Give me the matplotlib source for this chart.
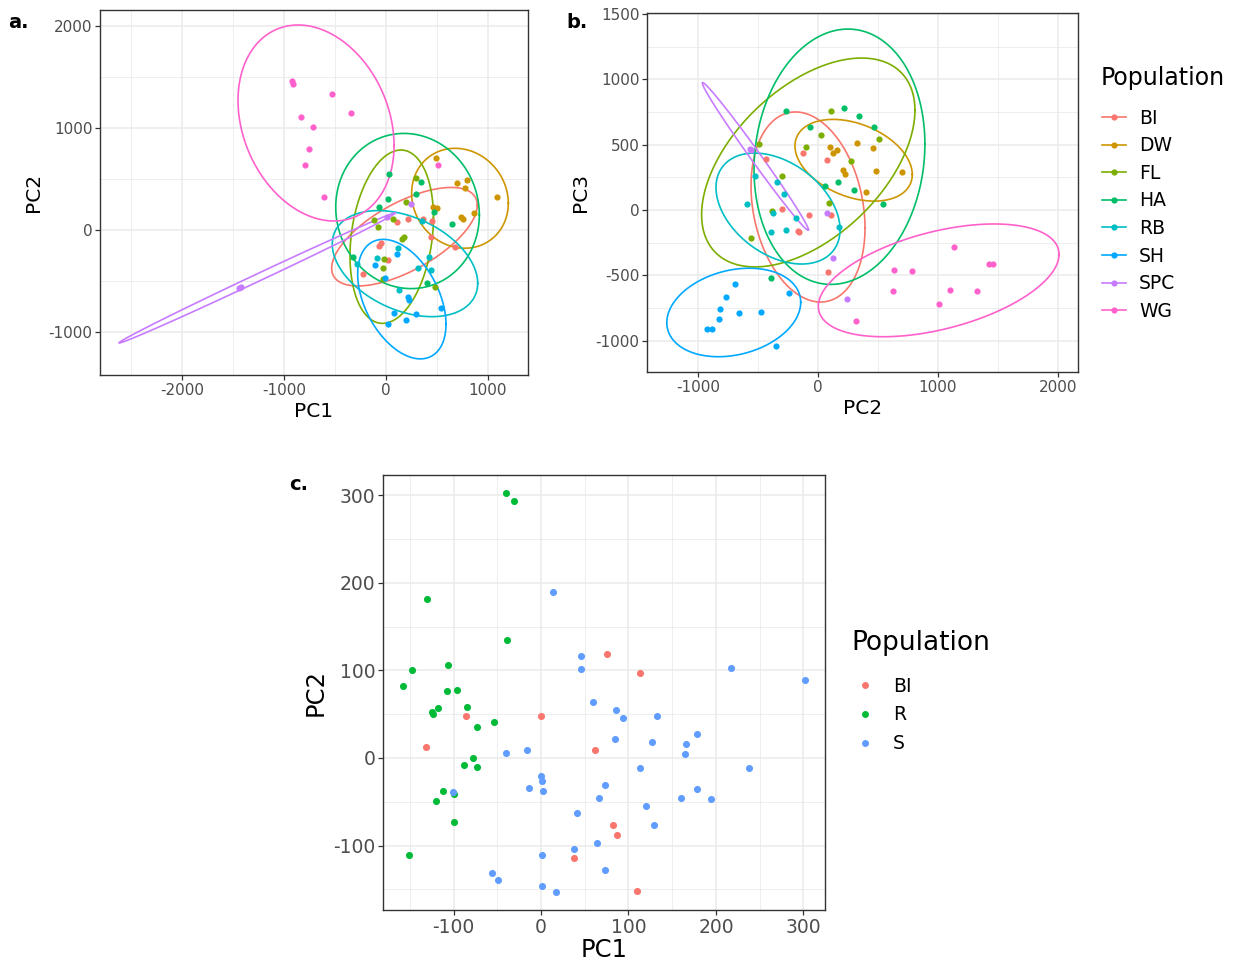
"""
PCA scatter plots of populations (panels a, b, c)
"""

import numpy as np
import matplotlib

matplotlib.use("Agg")
import matplotlib.pyplot as plt
from matplotlib.lines import Line2D

plt.rcParams["font.family"] = ["DejaVu Sans"]
plt.rcParams["axes.unicode_minus"] = False

POPS = ["BI", "DW", "FL", "HA", "RB", "SH", "SPC", "WG"]
POP_COLORS = ["#F8766D", "#CD9600", "#7CAE00", "#00BE67",
              "#00BFC4", "#00A9FF", "#C77CFF", "#FF61CC"]

# ---- panel a: PC1 vs PC2 ----
a_x = {
    "BI": [108, 219, 363, 454, 441, -49, -66, 23, -223, 676],
    "DW": [487, 693, 797, 775, 1085, 464, 500, 866, 732, 758],
    "FL": [294, 196, -115, -75, 72, 179, 160, -17, -32, -26, 480],
    "HA": [29, 343, 294, 23, -66, 471, 650, -321, 405],
    "RB": [115, -88, -287, 425, 317, 441, 127, 353],
    "SH": [108, -108, -10, 219, 225, 78, 294, 539, 196, 23],
    "SPC": [242, 7, -1419, -1441],
    "WG": [-925, -909, -833, -713, -755, -794, -532, -343, -605, 513],
}
a_y = {
    "BI": [78, 105, 108, 91, -72, -125, -157, -294, -431, -170],
    "DW": [709, 464, 490, 409, 326, 228, 213, 170, 125, 108],
    "FL": [513, 277, 98, 26, 108, -66, -91, -287, -375, -483, -556],
    "HA": [546, 471, 350, 304, 228, 176, 59, -268, -523],
    "RB": [-179, -277, -336, -262, -373, -392, -588, 88],
    "SH": [-238, -346, -468, -654, -686, -811, -821, -762, -879, -919],
    "SPC": [252, 130, -556, -569],
    "WG": [1464, 1431, 1105, 1013, 794, 637, 1330, 1144, 321, 637],
}
# ellipse: centre x, centre y, half width, half height, correlation
a_ell = {
    "BI": (181, -66, 714, 483, 0.64),
    "DW": (725, 311, 474, 490, -0.10),
    "FL": (56, -66, 409, 850, 0.22),
    "HA": (211, 186, 704, 761, -0.05),
    "RB": (186, -330, 713, 520, -0.37),
    "SH": (155, -678, 433, 586, -0.42),
    "SPC": (-1265, -471, 1353, 637, 0.998),
    "WG": (-686, 1049, 765, 961, -0.23),
}

# ---- panel b: PC2 vs PC3 ----
b_x = {
    "BI": [-122, 72, -436, -302, -75, -169, -158, 106, 86],
    "DW": [103, 161, 128, 322, 208, 225, 456, 481, 700, 400],
    "FL": [106, 22, -97, -489, 272, -302, 508, -383, -561, 94],
    "HA": [-269, 219, 342, -67, 58, 169, 300, 467, 539, -392],
    "RB": [-525, -344, -286, -592, -377, -183, -394, -269, 172],
    "SH": [-692, -769, -814, -825, -925, -883, -656, -475, -242, -352],
    "SPC": [-567, -560, 75, 122, 244],
    "WG": [1136, 1425, 1461, 631, 786, 627, 1097, 1325, 1006, 317],
}
b_y = {
    "BI": [434, 385, 388, 8, -36, -163, -171, -41, -475],
    "DW": [483, 462, 434, 511, 306, 273, 473, 299, 293, 136],
    "FL": [756, 575, 483, 503, 375, 260, 542, -8, -217, 51],
    "HA": [761, 781, 722, 638, 186, 212, 153, 638, 44, -523],
    "RB": [263, 212, 120, 46, -25, -61, -169, -156, -128],
    "SH": [-569, -664, -758, -837, -912, -912, -791, -779, -638, -1042],
    "SPC": [470, 462, -21, -370, -682],
    "WG": [-286, -411, -411, -457, -465, -620, -613, -618, -722, -850],
}
b_ell = {
    "BI": (-83, 23, 475, 728, -0.22),
    "DW": (297, 381, 489, 313, -0.35),
    "FL": (-81, 364, 889, 800, 0.50),
    "HA": (179, 408, 712, 978, 0.10),
    "RB": (-333, 11, 517, 425, -0.38),
    "SH": (-702, -785, 558, 339, 0.23),
    "SPC": (-522, 411, 442, 565, -0.993),
    "WG": (1006, -539, 1003, 432, 0.46),
}

# ---- panel c: PC1 vs PC2 (three groups) ----
C_POPS = ["BI", "R", "S"]
C_COLORS = ["#F8766D", "#00BA38", "#619CFF"]
c_x = {
    "BI": [75.8, 113.1, -86, -0.3, -131.4, 61.4, 81.9, 86.9, 38.1, 109.4],
    "R": [-40, -30.9, -130, -38.9, -106, -147.8, -157.4, -107, -96.3, -124.9,
          -123.1, -118.1, -84.2, -72.8, -53.7, -77.4, -87.7, -73.1, -112, -99.1,
          -119.7, -99.4, -150.5],
    "S": [14.1, 46.1, 46.1, 216.8, 301.7, 59.1, 85.4, 94.1, 132.6, 84.2,
          126.9, 178.3, 165.7, 164.2, -40, -16.3, 113.1, 238.1, 0, 1.1,
          -13.4, 2.3, -100.9, 73.1, 177.9, 66.3, 159.7, 194.6, 119.7, 40.8,
          129.1, 63.7, 38.1, 0.8, 73.1, -55.7, -48.8, 0.8, 17.1],
}
c_y = {
    "BI": [118.5, 96.8, 48, 47.7, 12.9, 9.5, -76.6, -87.7, -114.3, -152],
    "R": [302.5, 293.7, 181.7, 134.5, 105.9, 100.6, 82, 76.6, 77.7, 52.9,
          50.3, 57.5, 58.6, 35.4, 41.1, 0.3, -8.3, -10.3, -38.1, -41.1,
          -49.1, -72.8, -110.9],
    "S": [189.4, 116.6, 101.4, 102.5, 89.5, 63.7, 54.5, 46.1, 47.7, 21.7,
          18.3, 27.8, 15.7, 4.2, 6.1, 9.5, -11.8, -11.4, -20.9, -26.6,
          -34.3, -38.1, -38.9, -31.2, -35.1, -45.4, -46.1, -46.5, -54.5, -62.9,
          -76.9, -97.5, -104, -110.9, -128, -131.8, -139.4, -146.3, -152.8],
}

BORDER = "#333333"
TICKTXT = "#4D4D4D"
GRID = "#EBEBEB"


def ellipse_xy(cx, cy, w, h, rho, n=300):
    t = np.linspace(0, 2 * np.pi, n)
    x = cx + w * np.cos(t)
    y = cy + h * (rho * np.cos(t) + np.sqrt(1 - rho ** 2) * np.sin(t))
    return x, y


def style_axes(ax, xmaj, xmin, ymaj, ymin, tick_fs):
    ax.set_xticks(xmaj)
    ax.set_xticks(xmin, minor=True)
    ax.set_yticks(ymaj)
    ax.set_yticks(ymin, minor=True)
    ax.grid(True, which="major", color=GRID, lw=1.1, zorder=0)
    ax.grid(True, which="minor", color=GRID, lw=0.6, zorder=0)
    ax.set_axisbelow(True)
    for s in ax.spines.values():
        s.set_color(BORDER)
        s.set_linewidth(1.0)
    ax.tick_params(which="major", length=3.5, width=0.9, color=BORDER,
                   labelcolor=TICKTXT, labelsize=tick_fs, pad=2)
    ax.tick_params(which="minor", length=0)


fig = plt.figure(figsize=(12.37, 9.68), dpi=100)

# panel a
ax_a = fig.add_axes([100 / 1237, 1 - 375 / 968, 428 / 1237, 365 / 968])
for pop, col in zip(POPS, POP_COLORS):
    ex, ey = ellipse_xy(*a_ell[pop])
    ax_a.plot(ex, ey, color=col, lw=1.2, zorder=2)
    ax_a.scatter(a_x[pop], a_y[pop], s=20, color=col, lw=0, zorder=3)
ax_a.set_xlim(-2804, 1392)
ax_a.set_ylim(-1422, 2157)
style_axes(ax_a, [-2000, -1000, 0, 1000], [-2500, -1500, -500, 500],
           [-1000, 0, 1000, 2000], [-500, 500, 1500], 11)
ax_a.set_xlabel("PC1", fontsize=14.5, labelpad=3)
ax_a.set_ylabel("PC2", fontsize=14.5, labelpad=4)

# panel b
ax_b = fig.add_axes([647 / 1237, 1 - 372 / 968, 431 / 1237, 359 / 968])
for pop, col in zip(POPS, POP_COLORS):
    ex, ey = ellipse_xy(*b_ell[pop])
    ax_b.plot(ex, ey, color=col, lw=1.2, zorder=2)
    ax_b.scatter(b_x[pop], b_y[pop], s=20, color=col, lw=0, zorder=3)
ax_b.set_xlim(-1425, 2167)
ax_b.set_ylim(-1241, 1509)
style_axes(ax_b, [-1000, 0, 1000, 2000], [-500, 500, 1500],
           [-1000, -500, 0, 500, 1000, 1500], [-750, -250, 250, 750, 1250], 11)
ax_b.set_xlabel("PC2", fontsize=14.5, labelpad=3)
ax_b.set_ylabel("PC3", fontsize=14.5, labelpad=4)

handles_b = [Line2D([0], [0], color=c, lw=1.2, marker="o", markersize=4.5,
                    markeredgewidth=0) for c in POP_COLORS]
fig.text(1101 / 1237, 1 - 78 / 968, "Population", fontsize=17, va="center")
fig.legend(handles_b, POPS, loc="upper left",
           bbox_to_anchor=(1094 / 1237, 1 - 101 / 968), borderaxespad=0,
           frameon=False, fontsize=13.5, handlelength=1.3, handletextpad=0.7,
           labelspacing=0.46)

# panel c
ax_c = fig.add_axes([383 / 1237, 1 - 910 / 968, 442 / 1237, 435 / 968])
for pop, col in zip(C_POPS, C_COLORS):
    ax_c.scatter(c_x[pop], c_y[pop], s=26, color=col, lw=0, zorder=3)
ax_c.set_xlim(-180.6, 324.6)
ax_c.set_ylim(-173.7, 323.4)
style_axes(ax_c, [-100, 0, 100, 200, 300], [-150, -50, 50, 150, 250],
           [-100, 0, 100, 200, 300], [-150, -50, 50, 150, 250], 13.5)
ax_c.set_xlabel("PC1", fontsize=17.5, labelpad=1)
ax_c.set_ylabel("PC2", fontsize=17.5, labelpad=4)

handles_c = [Line2D([0], [0], color=c, lw=0, marker="o", markersize=5,
                    markeredgewidth=0) for c in C_COLORS]
fig.text(851 / 1237, 1 - 643 / 968, "Population", fontsize=19, va="center")
fig.legend(handles_c, C_POPS, loc="upper left",
           bbox_to_anchor=(848 / 1237, 1 - 669 / 968), borderaxespad=0,
           frameon=False, fontsize=13.5, handlelength=1.0, handletextpad=1.0,
           labelspacing=0.53)

# panel letters
fig.text(8 / 1237, 1 - 22 / 968, "a.", fontsize=14, fontweight="bold", va="center")
fig.text(566 / 1237, 1 - 22 / 968, "b.", fontsize=14, fontweight="bold", va="center")
fig.text(289 / 1237, 1 - 485 / 968, "c.", fontsize=14, fontweight="bold", va="center")

fig.savefig("out.png", dpi=100)
